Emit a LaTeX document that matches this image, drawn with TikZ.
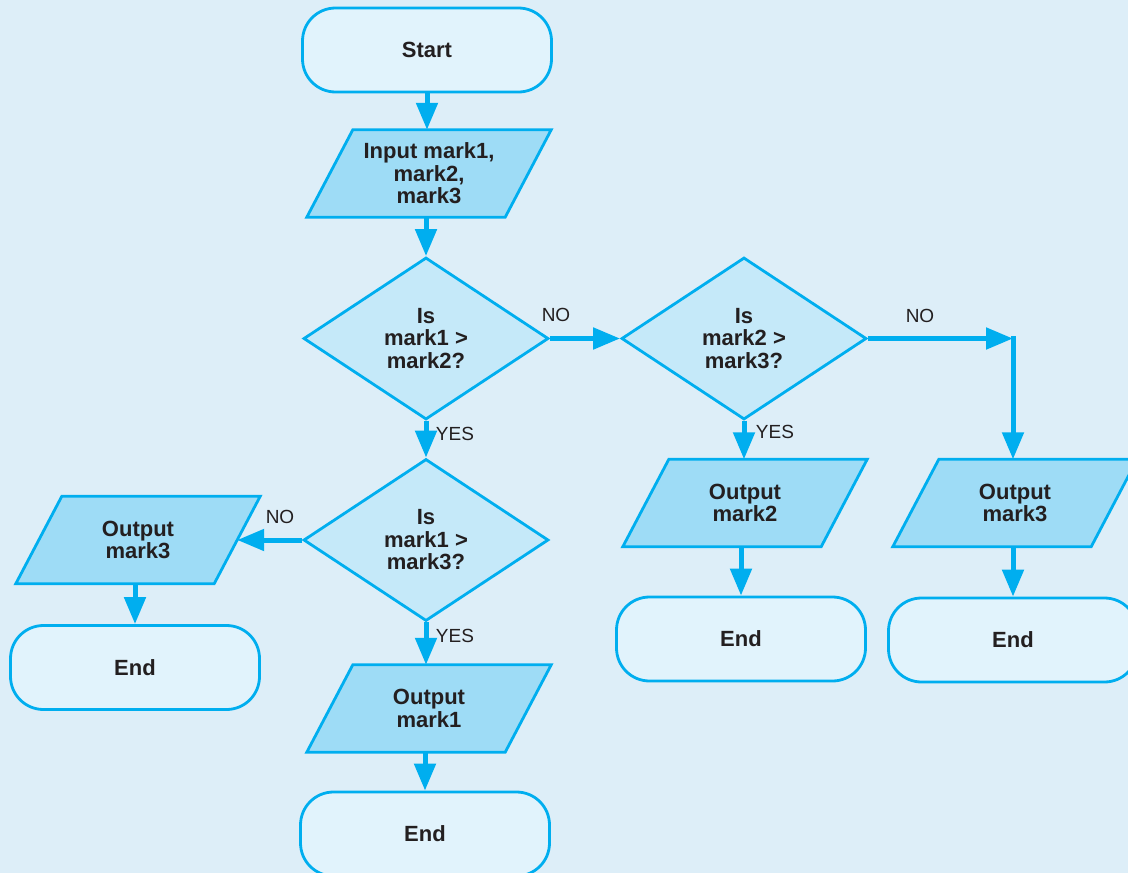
\documentclass[tikz,border=0pt]{standalone}
\usepackage{fontspec}
\setmainfont{Liberation Sans}
\usetikzlibrary{shapes.geometric,arrows.meta,backgrounds}
\definecolor{bgblue}{RGB}{221,238,248}
\definecolor{lineblue}{RGB}{0,174,239}
\definecolor{termfill}{RGB}{225,243,252}
\definecolor{decfill}{RGB}{197,233,249}
\definecolor{iofill}{RGB}{158,220,246}
\definecolor{ink}{RGB}{35,31,32}

\begin{document}
\begin{tikzpicture}[x=1pt,y=-1pt,
  lbl/.style={font=\fontsize{22}{22.5}\selectfont\bfseries, text=ink, align=center},
  term/.style={lbl, draw=lineblue, line width=2.8pt, fill=termfill, rounded corners=33pt,
    minimum width=249pt, minimum height=84pt, inner sep=0pt},
  io/.style={lbl, minimum width=198pt, minimum height=87pt, inner sep=0pt},
  iobox/.style={draw=lineblue, line width=2.8pt, fill=iofill, line join=miter},
  decision/.style={lbl, diamond, draw=lineblue, line width=2.8pt, fill=decfill,
    minimum width=245pt, minimum height=162pt, inner sep=0pt},
  flow/.style={draw=lineblue, line width=5pt, -{Triangle[length=27pt,width=21pt]}},
  anslabel/.style={font=\fontsize{19}{19}\selectfont, text=ink, inner sep=0pt}
]
\useasboundingbox (0,0) rectangle (1128,873);

% terminals, decisions and input/output steps
\node[term] (start) at (427,50) {Start};
\node[io] (inp) at (429,173.5) {Input mark1,\\mark2,\\mark3};
\node[decision] (d1) at (426,338.5) {Is\\mark1 >\\mark2?};
\node[decision] (d2) at (744,338.5) {Is\\mark2 >\\mark3?};
\node[decision] (d3) at (426,540) {Is\\mark1 >\\mark3?};
\node[io] (o3l) at (138,540) {Output\\mark3};
\node[term] (endl) at (135,667.5) {End};
\node[io] (o1) at (429,708.5) {Output\\mark1};
\node[term] (endb) at (425,834) {End};
\node[io] (o2) at (745,503) {Output\\mark2};
\node[term] (endm) at (741,639) {End};
\node[io] (o3r) at (1015,503) {Output\\mark3};
\node[term] (endr) at (1013,640) {End};
\coordinate (turn) at (1013,338.5);

% connectors
\draw[flow] (start.south) -- (start.south |- inp.north);
\draw[flow] (inp.south -| d1.north) -- (d1.north);
\draw[flow] (d1.east) -- (d2.west);
\draw[flow] (d1.south) -- (d3.north);
\draw[flow] (d3.west) -- (o3l.east);
\draw[flow] (o3l.south -| endl.north) -- (endl.north);
\draw[flow] (d3.south) -- (d3.south |- o1.north);
\draw[flow] (o1.south -| endb.north) -- (endb.north);
\draw[flow] (d2.south) -- (d2.south |- o2.north);
\draw[flow] (o2.south -| endm.north) -- (endm.north);
\draw[flow] (d2.east) -- (turn);
\draw[flow] ([yshift=2.5pt]turn) -- (turn |- o3r.north);
\draw[flow] (o3r.south -| endr.north) -- (endr.north);

% branch labels
\node[anslabel] (no1) at (556,315) {NO};
\node[anslabel] (yes1) at (455,434) {YES};
\node[anslabel] (no2) at (920,316) {NO};
\node[anslabel] (yes2) at (775,432) {YES};
\node[anslabel] (no3) at (280,517) {NO};
\node[anslabel] (yes3) at (455,636) {YES};

% page background and parallelogram outlines behind the text
\begin{scope}[on background layer]
  \fill[bgblue] (0,0) rectangle (1128,873);
  \foreach \n in {inp,o3l,o1,o2,o3r}
    \draw[iobox] ([xshift=23pt]\n.north west) -- ([xshift=23pt]\n.north east)
      -- ([xshift=-23pt]\n.south east) -- ([xshift=-23pt]\n.south west) -- cycle;
\end{scope}
\end{tikzpicture}
\end{document}
